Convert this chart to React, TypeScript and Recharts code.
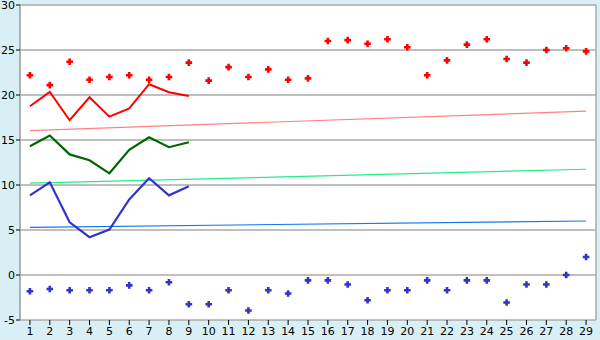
import React from "react";
import { ComposedChart, Line, XAxis, YAxis, CartesianGrid } from "recharts";

const days = [1, 2, 3, 4, 5, 6, 7, 8, 9, 10, 11, 12, 13, 14, 15, 16, 17, 18, 19, 20, 21, 22, 23, 24, 25, 26, 27, 28, 29];
const redPoints = [22.2, 21.1, 23.7, 21.7, 22.0, 22.2, 21.7, 22.0, 23.6, 21.6, 23.1, 22.0, 22.85, 21.7, 21.85, 26.0, 26.1, 25.7, 26.2, 25.3, 22.2, 23.85, 25.6, 26.2, 24.0, 23.6, 25.0, 25.2, 24.85];
const bluePoints = [-1.8, -1.55, -1.7, -1.7, -1.7, -1.15, -1.7, -0.8, -3.25, -3.25, -1.7, -3.95, -1.7, -2.05, -0.6, -0.6, -1.05, -2.8, -1.7, -1.7, -0.6, -1.7, -0.6, -0.6, -3.05, -1.05, -1.05, 0.0, 2.0];
const redLine = [18.75, 20.35, 17.2, 19.75, 17.6, 18.5, 21.2, 20.3, 19.9];
const greenLine = [14.3, 15.5, 13.4, 12.75, 11.3, 13.9, 15.3, 14.2, 14.75];
const blueLine = [8.85, 10.3, 5.85, 4.2, 5.05, 8.4, 10.75, 8.85, 9.85];
const pinkTrend = [16.05, 18.2];
const greenTrend = [10.2, 11.75];
const blueTrend = [5.3, 6.0];
const yTicks = [-5, 0, 5, 10, 15, 20, 25, 30];

const last = days.length - 1;
const data = days.map((d, i) => ({
  day: d,
  rp: redPoints[i],
  bp: bluePoints[i],
  rl: i < redLine.length ? redLine[i] : null,
  gl: i < greenLine.length ? greenLine[i] : null,
  bl: i < blueLine.length ? blueLine[i] : null,
  pt: i === 0 ? pinkTrend[0] : i === last ? pinkTrend[1] : null,
  gt: i === 0 ? greenTrend[0] : i === last ? greenTrend[1] : null,
  bt: i === 0 ? blueTrend[0] : i === last ? blueTrend[1] : null,
}));

const makeCross = (color: string) => (props: any) => {
  const { cx, cy, index } = props;
  if (cx == null || cy == null || props.value == null) return <g key={index} />;
  const a = 1.3;
  const b = 3.3;
  const pts = [
    [cx - a, cy - b], [cx + a, cy - b], [cx + a, cy - a], [cx + b, cy - a],
    [cx + b, cy + a], [cx + a, cy + a], [cx + a, cy + b], [cx - a, cy + b],
    [cx - a, cy + a], [cx - b, cy + a], [cx - b, cy - a], [cx - a, cy - a],
  ].map((p) => p.join(",")).join(" ");
  return <polygon key={index} points={pts} fill={color} stroke="none" />;
};

const font = { fontFamily: "DejaVu Sans", fontSize: 11, fill: "#000" };

export default function App() {
  return (
    <div style={{ position: "absolute", left: 0, top: 0, width: 600, height: 340, background: "#d9eff6" }}>
      <ComposedChart width={600} height={340} data={data} margin={{ top: 5, right: 4, bottom: 0, left: 0 }}>
        <CartesianGrid
          stroke="#aaaaaa"
          strokeWidth={1.5}
          fill="#ffffff"
          vertical={true}
          verticalCoordinatesGenerator={({ offset }: any) => [offset.left, offset.left + offset.width]}
        />
        <XAxis
          dataKey="day"
          type="category"
          scale="band"
          interval={0}
          axisLine={false}
          tickLine={{ stroke: "#000" }}
          tickSize={5}
          tickMargin={2}
          height={20}
          tick={font}
        />
        <YAxis
          domain={[-5, 30]}
          ticks={yTicks}
          width={20}
          axisLine={{ stroke: "#aaaaaa", strokeWidth: 1.5 }}
          tickLine={{ stroke: "#000" }}
          tickSize={4}
          tickMargin={1}
          tick={font}
          interval={0}
        />
        <Line dataKey="pt" stroke="#ff8080" strokeWidth={1.2} dot={false} connectNulls isAnimationActive={false} />
        <Line dataKey="gt" stroke="#22ee88" strokeWidth={1.2} dot={false} connectNulls isAnimationActive={false} />
        <Line dataKey="bt" stroke="#1177ee" strokeWidth={1.2} dot={false} connectNulls isAnimationActive={false} />
        <Line dataKey="rl" stroke="#ff0000" strokeWidth={2} dot={false} isAnimationActive={false} />
        <Line dataKey="gl" stroke="#006600" strokeWidth={2.2} dot={false} isAnimationActive={false} />
        <Line dataKey="bl" stroke="#3333cc" strokeWidth={2.2} dot={false} isAnimationActive={false} />
        <Line dataKey="rp" stroke="none" dot={makeCross("#ff0000")} activeDot={false} isAnimationActive={false} />
        <Line dataKey="bp" stroke="none" dot={makeCross("#3333cc")} activeDot={false} isAnimationActive={false} />
      </ComposedChart>
    </div>
  );
}
